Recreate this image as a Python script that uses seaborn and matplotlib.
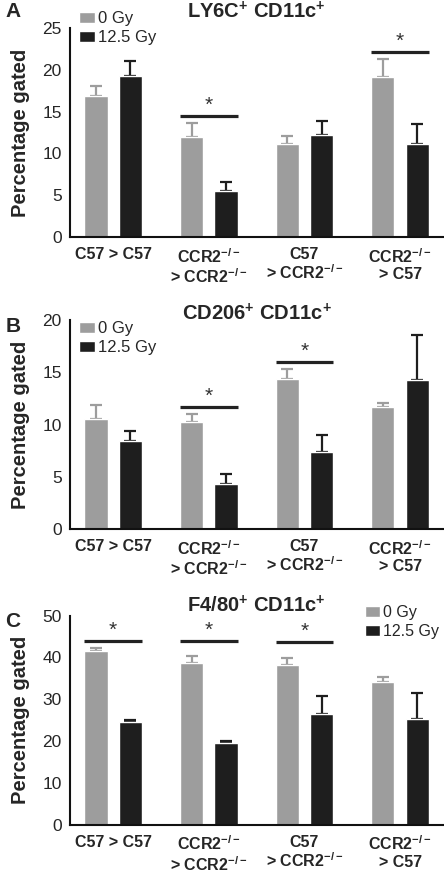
import numpy as np
import pandas as pd
import seaborn as sns
import matplotlib.pyplot as plt
from matplotlib.patches import Patch

# grupos (quimeras) e doses
grupos = ['C57 > C57', 'CCR2$^{-/-}$\n> CCR2$^{-/-}$', 'C57\n> CCR2$^{-/-}$', 'CCR2$^{-/-}$\n> C57']
doses = ['0 Gy', '12.5 Gy']

# painel A - LY6C+ CD11c+
ly6c_0 = [16.9, 12.0, 11.1, 19.1]
ly6c_0_err = [1.2, 1.6, 1.0, 2.2]
ly6c_12 = [19.2, 5.5, 12.2, 11.1]
ly6c_12_err = [1.9, 1.1, 1.7, 2.4]
ly6c_sig = [1, 3]

# painel B - CD206+ CD11c+
cd206_0 = [10.5, 10.3, 14.4, 11.7]
cd206_0_err = [1.4, 0.7, 0.9, 0.4]
cd206_12 = [8.4, 4.3, 7.4, 14.3]
cd206_12_err = [0.95, 1.0, 1.66, 4.3]
cd206_sig = [1, 2]

# painel C - F4/80+ CD11c+
f480_0 = [41.6, 38.8, 38.1, 34.2]
f480_0_err = [0.7, 1.5, 1.7, 1.2]
f480_12 = [24.5, 19.5, 26.5, 25.2]
f480_12_err = [0.5, 0.6, 4.3, 6.2]
f480_sig = [0, 1, 2]

cinza = '#9d9d9d'
preto = '#1e1e1e'

sns.set_style('white')
plt.rcParams['font.family'] = ['Liberation Sans', 'DejaVu Sans']
plt.rcParams['mathtext.fontset'] = 'custom'
plt.rcParams['mathtext.rm'] = 'Liberation Sans:bold'
plt.rcParams['mathtext.it'] = 'Liberation Sans:bold'
plt.rcParams['mathtext.bf'] = 'Liberation Sans:bold'

fig = plt.figure(figsize=(4.44, 8.72), dpi=100)

paineis = [
    ('A', 'LY6C$^{+}$ CD11c$^{+}$', ly6c_0, ly6c_0_err, ly6c_12, ly6c_12_err, ly6c_sig,
     25, [0, 5, 10, 15, 20, 25], [0.728, 0.968], 7, (0.024, 1.08)),
    ('B', 'CD206$^{+}$ CD11c$^{+}$', cd206_0, cd206_0_err, cd206_12, cd206_12_err, cd206_sig,
     20, [0, 5, 10, 15, 20], [0.393, 0.633], 0, (0.024, 0.995)),
    ('C', 'F4/80$^{+}$ CD11c$^{+}$', f480_0, f480_0_err, f480_12, f480_12_err, f480_sig,
     50, [0, 10, 20, 30, 40, 50], [0.054, 0.294], 2, (0.79, 1.05)),
]

for letra, titulo, v0, e0, v12, e12, sig, ymax, yticks, (bot, top), pad, leg_pos in paineis:
    ax = fig.add_axes([0.158, bot, 0.84, top - bot])
    df = pd.DataFrame({
        'grupo': grupos * 2,
        'dose': [doses[0]] * 4 + [doses[1]] * 4,
        'valor': v0 + v12,
    })
    sns.barplot(data=df, x='grupo', y='valor', hue='dose', order=grupos, hue_order=doses,
                palette=[cinza, preto], width=0.72, gap=0.33, errorbar=None,
                legend=False, saturation=1, ax=ax)

    # barras de erro apenas para cima, na cor da barra
    for cont, err, cor in zip(ax.containers, [e0, e12], [cinza, preto]):
        xs = [p.get_x() + p.get_width() / 2 for p in cont.patches]
        ys = [p.get_height() for p in cont.patches]
        ax.errorbar(xs, ys, yerr=[np.zeros(4), err], fmt='none', ecolor=cor,
                    elinewidth=1.6, capsize=4.5, capthick=1.6, zorder=1)
    for p in ax.patches:
        p.set_zorder(2)

    # linhas de significancia
    y_sig = {'A': {1: 14.5, 3: 22.1}, 'B': {1: 11.7, 2: 16.0}, 'C': {0: 43.9, 1: 43.9, 2: 43.7}}[letra]
    for g in sig:
        p0 = ax.containers[0].patches[g]
        p1 = ax.containers[1].patches[g]
        x0 = p0.get_x()
        x1 = p1.get_x() + p1.get_width()
        ax.plot([x0, x1], [y_sig[g], y_sig[g]], color='#222222', lw=2.3, solid_capstyle='butt')
        ax.text((x0 + x1) / 2, y_sig[g] + ymax * 0.005, '*', ha='center', va='bottom',
                fontsize=15, color='#333333')

    ax.set_xlim(-0.45, 3.45)
    ax.set_ylim(0, ymax)
    ax.set_yticks(yticks)
    ax.set_yticklabels([str(t) for t in yticks], fontsize=12.5)
    ax.set_xticks(range(4))
    ax.set_xticklabels(grupos, fontsize=11.5, fontweight='bold', linespacing=1.1)
    ax.set_xlabel('')
    ax.set_ylabel('Percentage gated', fontsize=14.5, fontweight='bold', labelpad=9)
    sns.despine(ax=ax)
    for s in ['left', 'bottom']:
        ax.spines[s].set_linewidth(1.5)
        ax.spines[s].set_color('#111111')
    ax.tick_params(axis='both', direction='out', length=4, width=1.5, color='#111111')
    ax.tick_params(axis='x', pad=2, length=5)
    ax.tick_params(axis='y', pad=2)
    ax.set_title(titulo, fontsize=14.5, fontweight='bold', pad=pad)

    handles = [Patch(facecolor=cinza, label=doses[0]), Patch(facecolor=preto, label=doses[1])]
    ax.legend(handles=handles, loc='upper left', bbox_to_anchor=leg_pos, frameon=False,
              fontsize=11.5 if letra == 'C' else 12, handlelength=0.95, handleheight=0.65,
              handletextpad=0.2, labelspacing=0.25, borderpad=0, borderaxespad=0)

    fig.text(0.012, top + (0.008 if letra == 'A' else 0.004), letra, fontsize=15,
             fontweight='bold', va='top' if letra != 'A' else 'bottom')

fig.savefig('out.png', dpi=100)
